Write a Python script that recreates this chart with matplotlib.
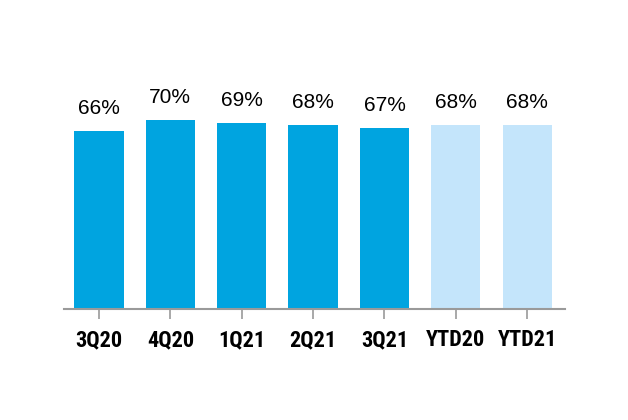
import matplotlib
matplotlib.use("Agg")
from matplotlib import pyplot as plt

categories = ["3Q20", "4Q20", "1Q21", "2Q21", "3Q21", "YTD20", "YTD21"]
values = [66, 70, 69, 68, 67, 68, 68]
labels = ["66%", "70%", "69%", "68%", "67%", "68%", "68%"]
is_ytd = [False, False, False, False, False, True, True]

DARK = "#00A4E0"
LIGHT = "#C4E5FB"
GREY = "#9A9A9A"

fig = plt.figure(figsize=(6.28, 4.20), dpi=100)
ax = fig.add_axes([64 / 628, 111 / 420, 501 / 628, 249 / 420])

x = range(len(categories))
colors = [LIGHT if y else DARK for y in is_ytd]
ax.bar(x, values, width=0.69, color=colors)

# labels sit ~17px above each bar (2.7 px per unit)
for i, (v, lab) in enumerate(zip(values, labels)):
    ax.text(i, v + 17 / 2.7, lab, ha="center", va="baseline",
            fontsize=15, family=["Liberation Sans", "DejaVu Sans"])

ax.set_xlim(-0.49, 6.53)
ax.set_ylim(0, 249 / 2.7)
ax.set_xticks(list(x))
ax.set_xticklabels(categories, fontsize=16, fontweight="bold",
                   family=["Roboto Condensed", "DejaVu Sans"])
ax.tick_params(axis="x", length=7.5, width=1.2, color=GREY, pad=7)
ax.set_yticks([])
for side in ["top", "left", "right"]:
    ax.spines[side].set_visible(False)
ax.spines["bottom"].set_color(GREY)
ax.spines["bottom"].set_linewidth(1.5)

fig.savefig("out.png", dpi=100)
